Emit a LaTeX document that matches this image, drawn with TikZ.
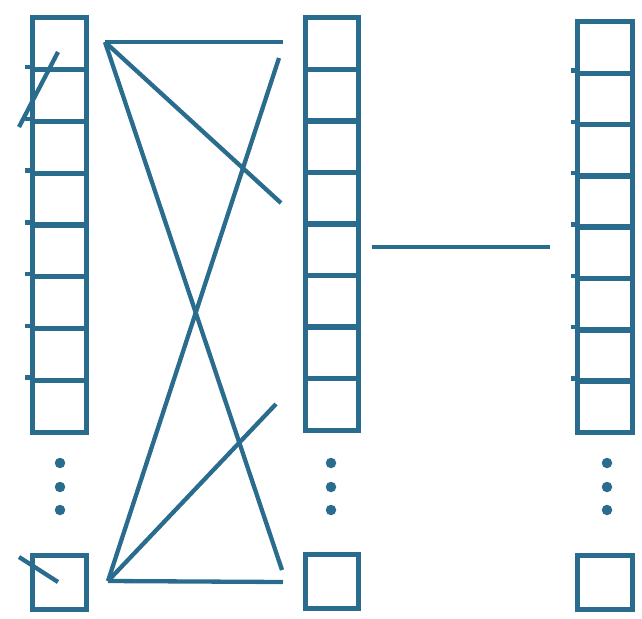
\documentclass[tikz,border=0pt]{standalone}
\usepackage{tikz}
\definecolor{tealb}{RGB}{42,108,142}
\begin{document}
\begin{tikzpicture}[x=1pt,y=-1pt,
  cellbox/.style={draw=tealb,line width=5pt,inner sep=0pt,minimum width=#1,minimum height=51.8pt},
  cellbox/.default=54pt,
  sqbox/.style={draw=tealb,line width=5pt,inner sep=0pt,minimum width=54pt,minimum height=54pt},
  link/.style={draw=tealb,line width=4.3pt},
  tick/.style={draw=tealb,line width=4.5pt},
  dotm/.style={fill=tealb,circle,inner sep=0pt,minimum size=10.5pt}]
\useasboundingbox (0,0) rectangle (642,618);
% columns
\foreach \i in {1,...,8}{
  \node[cellbox=54pt] (L\i) at (59,{18+51.75*(\i-0.5)}) {};
  \node[cellbox=53pt] (M\i) at (331.5,{18+51.5*(\i-0.5)}) {};
  \node[cellbox=55pt] (R\i) at (605,{22+51.3*(\i-0.5)}) {};
}
\foreach \i in {2,...,8}{
  \draw[tick] ([xshift=-4.5pt]L\i.north west) -- (L\i.north west);
  \draw[tick] ([xshift=-4.5pt]R\i.north west) -- (R\i.north west);
}
\node[sqbox] (Lb) at (59,582) {};
\node[sqbox,minimum width=53pt] (Mb) at (331.5,581.5) {};
\node[sqbox,minimum width=55pt] (Rb) at (605,582.5) {};
% dots
\foreach \c/\x in {l/60,m/331,r/607}{
  \node[dotm] (d\c1) at (\x,463) {};
  \node[dotm] (d\c2) at (\x,487) {};
  \node[dotm] (d\c3) at (\x,510) {};
}
% connector end points
\coordinate (pa) at (105,42);
\coordinate (pb) at (108,581);
\coordinate (m1) at (283,42);
\coordinate (m2) at (279,58);
\coordinate (m3) at (281,203);
\coordinate (m4) at (276,404);
\coordinate (m5) at (282,570);
\coordinate (m6) at (283,582);
\coordinate (lt1) at (58,52);
\coordinate (lt2) at (19,127);
\coordinate (lb1) at (19,557);
\coordinate (lb2) at (58,582);
\coordinate (h1) at (372,247);
\coordinate (h2) at (550,247);
\draw[link] (pa) -- (m1);
\draw[link] (pa) -- (m3);
\draw[link] (pa) -- (m5);
\draw[link] (pb) -- (m2);
\draw[link] (pb) -- (m4);
\draw[link] (pb) -- (m6);
\draw[link] (lt1) -- (lt2);
\draw[link] (lb1) -- (lb2);
\draw[link] (h1) -- (h2);
\end{tikzpicture}
\end{document}
